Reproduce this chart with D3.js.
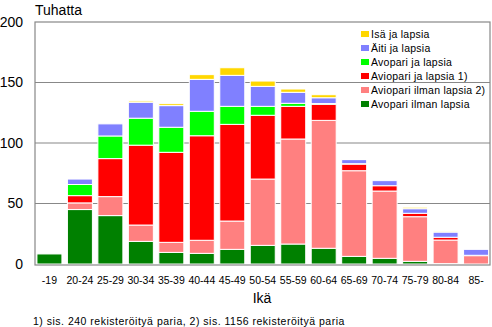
<!DOCTYPE html>
<html><head><meta charset="utf-8">
<script src="https://cdn.jsdelivr.net/npm/d3@7"></script>
<style>body{margin:0;background:#fff}svg{display:block;font-family:"Liberation Sans",Arial,sans-serif}</style>
</head><body><svg id="c" width="492" height="327"></svg>
<script>
const categories = ["-19","20-24","25-29","30-34","35-39","40-44","45-49","50-54","55-59","60-64","65-69","70-74","75-79","80-84","85-"];
// stacked bottom -> top
const avopariIlmanLapsia  = [8.3, 45, 40, 18.7, 9.6, 8.8, 12.1, 15.4, 16.5, 13, 6.3, 4.7, 2.2, 0.3, 0];
const aviopariIlmanLapsia = [0, 5.5, 15.7, 13.5, 8.3, 10.8, 23.4, 54.8, 86.8, 105.7, 70.8, 55.6, 36.9, 19.5, 6.9];
const aviopariJaLapsia    = [0, 6, 31.4, 66, 74.4, 86.4, 79.9, 52.7, 27, 13.3, 5.5, 4.4, 2.8, 2.3, 0.3];
const avopariJaLapsia     = [0, 9.2, 18.7, 22.3, 20.7, 20.2, 14.9, 7.4, 2.5, 0.6, 0.3, 0, 0, 0, 0];
const aitiJaLapsia        = [0, 4.5, 10, 13.2, 17.9, 26.4, 25.6, 16.5, 9.1, 4.8, 3.4, 4.2, 3.8, 4.3, 4.9];
const isaJaLapsia         = [0, 0, 0, 1.1, 1.6, 3.9, 6.3, 4.4, 2.7, 2.5, 0.3, 0, 1.2, 0.9, 0];
const yTicks = [0, 50, 100, 150, 200];

const seriesNames = ["Avopari ilman lapsia","Aviopari ilman lapsia 2)","Aviopari ja lapsia 1)","Avopari ja lapsia","Äiti ja lapsia","Isä ja lapsia"];
const seriesValues = [avopariIlmanLapsia, aviopariIlmanLapsia, aviopariJaLapsia, avopariJaLapsia, aitiJaLapsia, isaJaLapsia];
const colors = ["#008000","#FF8080","#FF0000","#00FF00","#8080FF","#FFD700"];

const svg = d3.select("#c");
const L = 35, R = 490, T = 22, B = 264;
const x = d3.scaleBand().domain(categories).range([34.5, 491]).paddingInner(0.18).paddingOuter(0.08);
const y = d3.scaleLinear().domain([0, 200]).range([B, T]);

const table = categories.map((c, i) => {
  const o = {cat: c};
  seriesNames.forEach((s, k) => o[s] = seriesValues[k][i]);
  return o;
});
const stack = d3.stack().keys(seriesNames)(table);

// gridlines
svg.append("g").selectAll("line").data([50,100,150]).join("line")
  .attr("x1", L).attr("x2", R).attr("y1", d => y(d)).attr("y2", d => y(d))
  .attr("stroke", "#888").attr("stroke-width", 1.2);

// bars
svg.append("g").selectAll("g").data(stack).join("g")
  .attr("fill", (d, i) => colors[i])
  .selectAll("rect").data(d => d.filter(p => p[1] - p[0] > 0)).join("rect")
  .attr("x", d => x(d.data.cat))
  .attr("width", x.bandwidth())
  .attr("y", d => y(d[1]))
  .attr("height", d => Math.max(0, y(d[0]) - y(d[1])))
  .attr("stroke", "#fff").attr("stroke-width", 1);

// frame
svg.append("rect").attr("x", L).attr("y", T).attr("width", R - L).attr("height", B - T + 1)
  .attr("fill", "none").attr("stroke", "#888").attr("stroke-width", 1.2);

// y axis labels
const yAxis = d3.axisLeft(y).tickValues(yTicks).tickSize(0).tickPadding(12);
const gy = svg.append("g").attr("transform", `translate(${L},0)`).call(yAxis);
gy.select(".domain").remove();
gy.selectAll("text").attr("font-size", 14).attr("fill", "#000").attr("font-family", "Liberation Sans, Arial, sans-serif");

// x axis labels
const xAxis = d3.axisBottom(x).tickSize(0).tickPadding(13);
const gx = svg.append("g").attr("transform", `translate(0,${B})`).call(xAxis);
gx.select(".domain").remove();
gx.selectAll("text").attr("font-size", 10.5).attr("fill", "#000").attr("font-family", "Liberation Sans, Arial, sans-serif");

svg.append("text").attr("x", 35).attr("y", 15).attr("font-size", 14).text("Tuhatta");
svg.append("text").attr("x", 262).attr("y", 303).attr("text-anchor", "middle").attr("font-size", 14).text("Ikä");
svg.append("text").attr("x", 33).attr("y", 325).attr("font-size", 10.5).attr("letter-spacing", 0.5)
  .text("1) sis. 240 rekisteröityä paria,  2) sis. 1156 rekisteröityä paria");

// legend (top to bottom)
const legendOrder = [5,4,3,2,1,0];
const lg = svg.append("g").selectAll("g").data(legendOrder).join("g")
  .attr("transform", (d, i) => `translate(361,${31 + i * 14})`);
lg.append("rect").attr("width", 8).attr("height", 6).attr("fill", d => colors[d]);
lg.append("text").attr("x", 10).attr("y", 7).attr("font-size", 10.5).attr("letter-spacing", 0.25).text(d => seriesNames[d]);
</script></body></html>
